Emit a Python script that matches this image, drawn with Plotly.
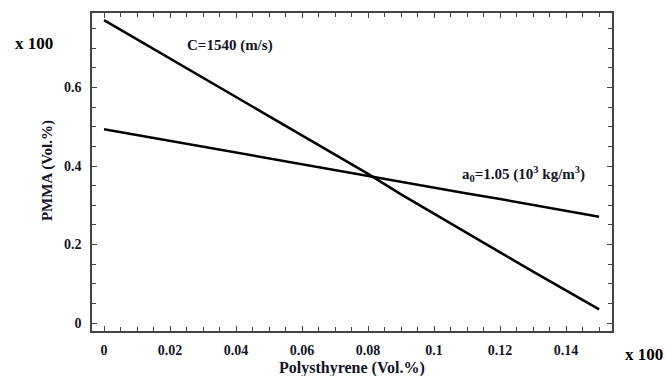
import plotly.graph_objects as go

# Data
polystyrene = [0.00, 0.01, 0.02, 0.03, 0.04, 0.05, 0.06, 0.07, 0.08,
               0.09, 0.10, 0.11, 0.12, 0.13, 0.14, 0.15]
pmma_c1540 = [0.772, 0.723, 0.674, 0.625, 0.576, 0.527, 0.478, 0.429, 0.380,
              0.328, 0.278, 0.228, 0.180, 0.131, 0.083, 0.035]
pmma_a105 = [0.494, 0.479, 0.464, 0.449, 0.435, 0.420, 0.405, 0.390, 0.375,
             0.360, 0.345, 0.330, 0.316, 0.301, 0.286, 0.271]

x_tickvals = [0, 0.02, 0.04, 0.06, 0.08, 0.1, 0.12, 0.14]
x_ticktext = ["0", "0.02", "0.04", "0.06", "0.08", "0.1", "0.12", "0.14"]
y_tickvals = [0, 0.2, 0.4, 0.6]
y_ticktext = ["0", "0.2", "0.4", "0.6"]

FONT = "Liberation Serif"
TXT = "#141428"

fig = go.Figure()
fig.add_trace(go.Scatter(x=polystyrene, y=pmma_c1540, mode="lines",
                         line=dict(color="black", width=2.5), showlegend=False))
fig.add_trace(go.Scatter(x=polystyrene, y=pmma_a105, mode="lines",
                         line=dict(color="black", width=2.5), showlegend=False))

axis_common = dict(showgrid=False, zeroline=False, showline=True,
                   linecolor="#444444", linewidth=1.5, mirror="allticks",
                   ticks="inside", ticklen=5, tickwidth=1.2, tickcolor="#444444",
                   tickfont=dict(family=FONT, size=14, color=TXT, weight="bold"))

fig.update_xaxes(range=[-0.00364, 0.1539], tickmode="array",
                 tickvals=x_tickvals, ticktext=x_ticktext,
                 minor=dict(dtick=0.005, tick0=0, ticks="inside", ticklen=4,
                            tickwidth=1, tickcolor="#444444"),
                 ticklabelstandoff=5,
                 **axis_common)
fig.update_yaxes(range=[-0.0203, 0.790], tickmode="array",
                 tickvals=y_tickvals, ticktext=y_ticktext,
                 minor=dict(dtick=0.05, tick0=0, ticks="inside", ticklen=4,
                            tickwidth=1, tickcolor="#444444"),
                 ticklabelstandoff=6,
                 **axis_common)

def ann(text, x, y, ref, size, **kw):
    xa = kw.pop("xanchor", "center")
    return dict(text=text, x=x, y=y, xref=ref[0], yref=ref[1],
                xanchor=xa, yanchor="middle", showarrow=False,
                font=dict(family=FONT, size=size, color=kw.pop("color", TXT)), **kw)

anns = [
    ann("<b>C=1540 (m/s)</b>", 0.0382, 0.706, ("x", "y"), 15),
    ann("<b>a<sub>0</sub>=1.05 (10<sup>3</sup> kg/m<sup>3</sup>)</b>", 0.1271, 0.38, ("x", "y"), 15),
    ann("<b>x 100</b>", -0.1106, 0.903, ("paper", "paper"), 17, color="black"),
    ann("<b>x 100</b>", 1.1019, -0.075, ("paper", "paper"), 17, color="black", xanchor="right"),
    ann("<b>PMMA (Vol.%)</b>", -0.0865, 0.503, ("paper", "paper"), 15, textangle=-90),
    ann("<b>Polysthyrene (Vol.%)</b>", 0.5, -0.116, ("paper", "paper"), 16),
]

fig.update_layout(width=666, height=376,
                  margin=dict(l=92, r=54, t=11, b=45),
                  paper_bgcolor="white", plot_bgcolor="white",
                  annotations=anns)

fig.write_html("out.html",
               config={"displayModeBar": False},
               post_script="document.body.style.margin='0';document.body.style.overflow='hidden';")
